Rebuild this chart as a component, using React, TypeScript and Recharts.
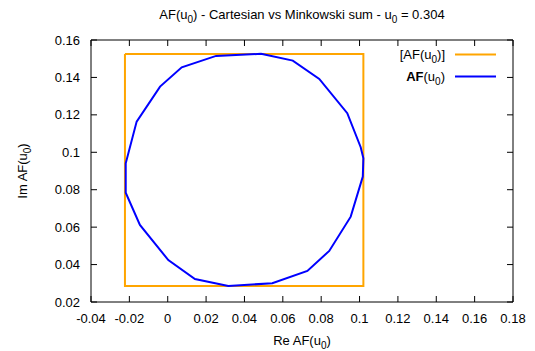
import React from 'react';
import { LineChart, Line, XAxis, YAxis, Customized } from 'recharts';

const xTicks = [-0.04, -0.02, 0, 0.02, 0.04, 0.06, 0.08, 0.1, 0.12, 0.14, 0.16, 0.18];
const yTicks = [0.02, 0.04, 0.06, 0.08, 0.1, 0.12, 0.14, 0.16];

// Cartesian interval box [AF(u0)]
const boxRe = [-0.0223, 0.102, 0.102, -0.0223, -0.0223];
const boxIm = [0.1525, 0.1525, 0.0286, 0.0286, 0.1525];

// Minkowski sum polygon AF(u0)
const sumRe = [0.0486, 0.0652, 0.079, 0.0936, 0.1006, 0.102, 0.1017, 0.0954, 0.0842, 0.0728, 0.0545, 0.0316, 0.0142, 0.0003, -0.0145, -0.0219, -0.0219, -0.0162, -0.004, 0.0073, 0.0252, 0.0486];
const sumIm = [0.1526, 0.149, 0.1392, 0.1209, 0.1027, 0.0968, 0.087, 0.0656, 0.0473, 0.0366, 0.030, 0.0286, 0.0323, 0.0424, 0.0612, 0.0784, 0.0941, 0.1164, 0.1351, 0.1454, 0.1515, 0.1526];

const boxData = boxRe.map((x, i) => ({ x, y: boxIm[i] }));
const sumData = sumRe.map((x, i) => ({ x, y: sumIm[i] }));

const FONT = '"Liberation Sans", Arial, sans-serif';
const FS = 13;
const ORANGE = '#FFA500';
const BLUE = '#0000FF';
const TICK = 6;

const Sub = ({ s }: { s: string }) => (
  <>
    <tspan dy={4} fontSize={10}>{s}</tspan>
    <tspan dy={-4}>{')'}</tspan>
  </>
);

const Overlay = () => (
  <g fontFamily={FONT} fontSize={FS} fill="#000">
    <text x={302} y={19} textAnchor="middle">
      AF(u<tspan dy={4} fontSize={10}>0</tspan>
      <tspan dy={-4}>{') - Cartesian vs Minkowski sum - u'}</tspan>
      <tspan dy={4} fontSize={10}>0</tspan>
      <tspan dy={-4}>{' = 0.304'}</tspan>
    </text>
    <text x={445} y={59} textAnchor="end">
      [AF(u<tspan dy={4} fontSize={10}>0</tspan>
      <tspan dy={-4}>{')]'}</tspan>
    </text>
    <line x1={455} x2={496} y1={54.5} y2={54.5} stroke={ORANGE} strokeWidth={2} />
    <text x={445} y={81} textAnchor="end">
      <tspan fontWeight="bold">AF</tspan>(u<tspan dy={4} fontSize={10}>0</tspan>
      <tspan dy={-4}>{')'}</tspan>
    </text>
    <line x1={455} x2={496} y1={76.5} y2={76.5} stroke={BLUE} strokeWidth={2} />
    <text x={302} y={345} textAnchor="middle">
      Re AF(u<Sub s="0" />
    </text>
    <text x={0} y={0} textAnchor="middle" transform="translate(27,171) rotate(-90)">
      Im AF(u<Sub s="0" />
    </text>
  </g>
);

const BottomTick = (p: any) => (
  <g>
    <line x1={p.x} x2={p.x} y1={p.y} y2={p.y - TICK} stroke="#000" />
    <text x={p.x} y={p.y + 21} textAnchor="middle" fontFamily={FONT} fontSize={FS} fill="#000">
      {String(p.payload.value)}
    </text>
  </g>
);
const TopTick = (p: any) => (
  <line x1={p.x} x2={p.x} y1={p.y} y2={p.y + TICK} stroke="#000" />
);
const LeftTick = (p: any) => (
  <g>
    <line x1={p.x} x2={p.x + TICK} y1={p.y} y2={p.y} stroke="#000" />
    <text x={p.x - 11} y={p.y + 4.6} textAnchor="end" fontFamily={FONT} fontSize={FS} fill="#000">
      {String(p.payload.value)}
    </text>
  </g>
);
const RightTick = (p: any) => (
  <line x1={p.x} x2={p.x - TICK} y1={p.y} y2={p.y} stroke="#000" />
);

export default function App() {
  return (
    <div style={{ position: 'absolute', left: 0, top: 0, background: '#fff' }}>
      <LineChart width={535} height={351} margin={{ top: 39, right: 21, bottom: 0, left: 0 }}>
        <XAxis
          xAxisId="b"
          type="number"
          dataKey="x"
          domain={[-0.04, 0.18]}
          ticks={xTicks}
          interval={0}
          height={49}
          tickSize={0}
          tickMargin={0}
          tickLine={false}
          axisLine={{ stroke: '#000' }}
          tick={BottomTick}
          allowDataOverflow
        />
        <XAxis
          xAxisId="t"
          orientation="top"
          type="number"
          dataKey="x"
          domain={[-0.04, 0.18]}
          ticks={xTicks}
          interval={0}
          height={1}
          tickSize={0}
          tickMargin={0}
          tickLine={false}
          axisLine={{ stroke: '#000' }}
          tick={TopTick}
          allowDataOverflow
        />
        <YAxis
          yAxisId="l"
          type="number"
          dataKey="y"
          domain={[0.02, 0.16]}
          ticks={yTicks}
          interval={0}
          width={91}
          tickSize={0}
          tickMargin={0}
          tickLine={false}
          axisLine={{ stroke: '#000' }}
          tick={LeftTick}
          allowDataOverflow
        />
        <YAxis
          yAxisId="r"
          orientation="right"
          type="number"
          dataKey="y"
          domain={[0.02, 0.16]}
          ticks={yTicks}
          interval={0}
          width={1}
          tickSize={0}
          tickMargin={0}
          tickLine={false}
          axisLine={{ stroke: '#000' }}
          tick={RightTick}
          allowDataOverflow
        />
        <Line
          xAxisId="t"
          yAxisId="r"
          data={boxData}
          dataKey="y"
          stroke="none"
          dot={false}
          activeDot={false}
          isAnimationActive={false}
          legendType="none"
        />
        <Line
          xAxisId="b"
          yAxisId="l"
          data={boxData}
          dataKey="y"
          stroke={ORANGE}
          strokeWidth={2}
          dot={false}
          activeDot={false}
          isAnimationActive={false}
          type="linear"
        />
        <Line
          xAxisId="b"
          yAxisId="l"
          data={sumData}
          dataKey="y"
          stroke={BLUE}
          strokeWidth={2}
          dot={false}
          activeDot={false}
          isAnimationActive={false}
          type="linear"
        />
        <Customized component={Overlay} />
      </LineChart>
    </div>
  );
}
